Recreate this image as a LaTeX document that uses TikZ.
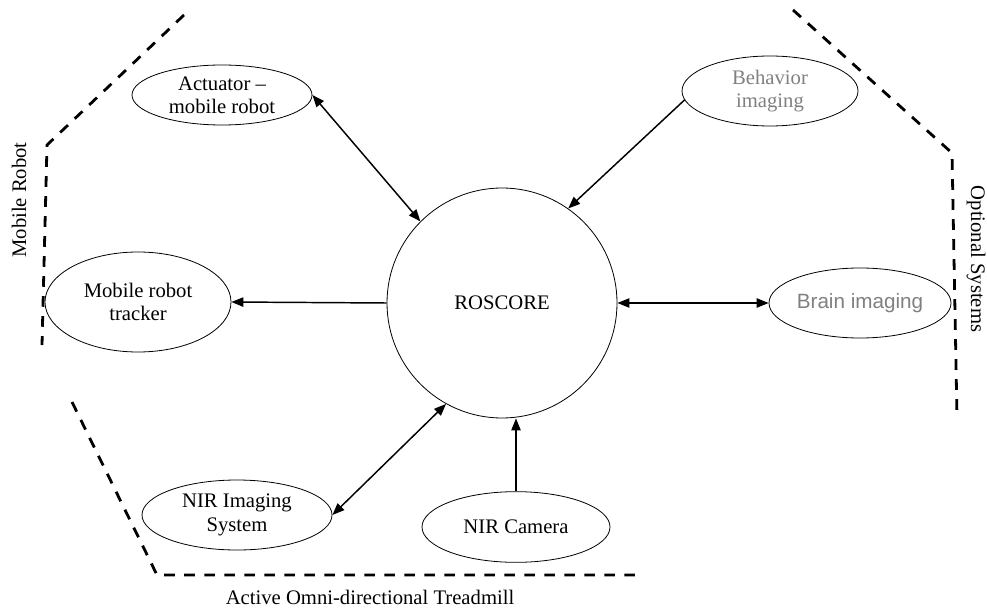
\documentclass[tikz,border=0pt]{standalone}
\usepackage{fontspec}
\setmainfont{Liberation Serif}
\newfontfamily\brainfont{Liberation Sans}
\usetikzlibrary{shapes.geometric,arrows.meta}
\definecolor{greytext}{HTML}{808080}
\tikzset{
  blob/.style={draw, ellipse, line width=0.6pt, inner sep=0pt, align=center,
    font=\fontsize{15.5}{17.5}\selectfont},
  conn/.style={line width=1.1pt, -{Triangle[length=9pt,width=7pt]}},
  bconn/.style={line width=1.1pt, {Triangle[length=9pt,width=7pt]}-{Triangle[length=9pt,width=7pt]}},
  zone/.style={dashed, line width=2.1pt, dash pattern=on 8pt off 7pt},
  zonelabel/.style={font=\fontsize{15.5}{17.5}\selectfont, inner sep=0pt}
}
\begin{document}
\begin{tikzpicture}[x=0.75pt, y=-0.75pt]
\useasboundingbox (0,0) rectangle (987,609);
% nodes
\node[draw, circle, line width=0.6pt, minimum size=172.5pt, inner sep=0pt,
  font=\fontsize{15.5}{17.5}\selectfont] (ros) at (502,303) {ROSCORE};
\node[blob, minimum width=135pt, minimum height=45pt] (act) at (222,95) {Actuator –\\mobile robot};
\node[blob, minimum width=139.5pt, minimum height=75pt] (trk) at (138,302) {Mobile robot\\tracker};
\node[blob, minimum width=132pt, minimum height=52.5pt, text=greytext] (beh) at (770,91) {Behavior\\imaging};
\node[blob, minimum width=136.5pt, minimum height=52.5pt, text=greytext,
  font=\brainfont\fontsize{15.5}{18}\selectfont] (brain) at (860,303) {Brain imaging};
\node[blob, minimum width=142.5pt, minimum height=52.5pt] (nir) at (237,515) {NIR Imaging\\System};
\node[blob, minimum width=141pt, minimum height=53pt] (cam) at (516,527) {NIR Camera};
% connectors
\draw[bconn] (act.east) -- (ros.135);
\draw[conn] (beh.186) -- (ros.55);
\draw[conn] (ros.west) -- (trk.east);
\draw[bconn] (ros.east) -- (brain.west);
\draw[bconn] (nir.east) -- (ros.241);
\draw[conn] (cam.north) -- (cam.north |- ros.south);
% zone boundaries
\draw[zone] (184,15) -- (47,145) -- (42,345);
\draw[zone] (793,10) -- (952,153) -- (957,418);
\draw[zone] (72,402) -- (157,575) -- (640,575);
% zone labels
\node[zonelabel, rotate=90] (lmob) at (19,200) {Mobile Robot};
\node[zonelabel, rotate=-90] (lopt) at (976,259) {Optional Systems};
\node[zonelabel] (ltread) at (370,597) {Active Omni-directional Treadmill};
\end{tikzpicture}
\end{document}
